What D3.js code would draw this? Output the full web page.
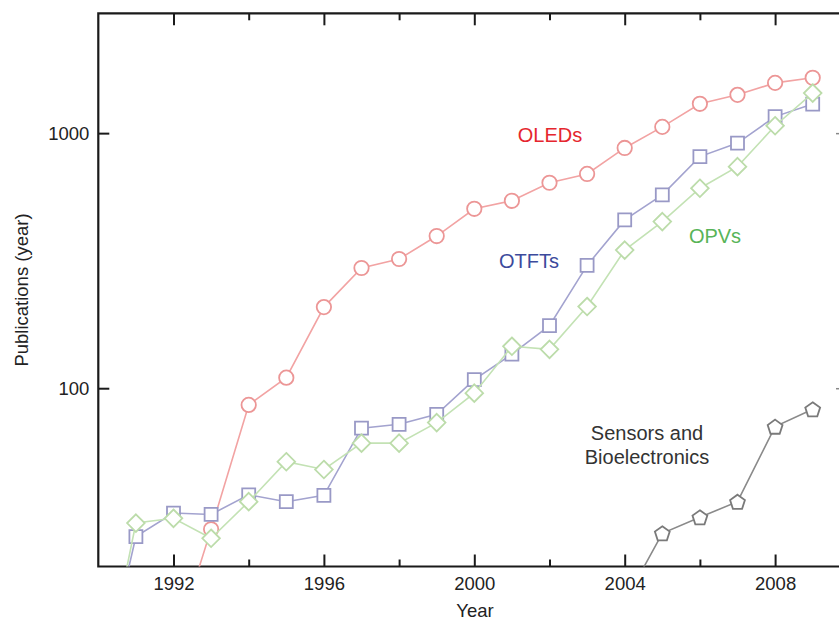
<!DOCTYPE html>
<html>
<head>
<meta charset="utf-8">
<script src="https://cdn.jsdelivr.net/npm/d3@7"></script>
<style>
  html, body { margin: 0; padding: 0; background: #fff; }
  svg { display: block; font-family: "Liberation Sans", Arial, Helvetica, sans-serif; }
</style>
</head>
<body>
<svg id="chart" width="839" height="621"></svg>
<script>
// ---- data ----
const years   = [1990, 1991, 1992, 1993, 1994, 1995, 1996, 1997, 1998, 1999, 2000, 2001, 2002, 2003, 2004, 2005, 2006, 2007, 2008, 2009];
const oleds   = [null, null, 9.5, 28, 86, 110, 208, 296, 321, 395, 505, 543, 639, 692, 875, 1058, 1303, 1413, 1574, 1648];
const otfts   = [6, 26.2, 32.4, 32, 38.2, 35.9, 38, 69.7, 72.2, 79, 108, 136, 176, 303, 457, 573, 809, 914, 1161, 1300];
const opvs    = [5.6, 29.6, 30.9, 25.8, 35.9, 51.5, 48, 60.9, 60.9, 73.3, 95.6, 146, 142, 209, 348, 450, 608, 739, 1069, 1436];
const sensors = [null, null, null, null, null, null, null, null, null, null, null, null, null, null, 14.5, 27, 31.2, 35.9, 70.7, 82.7];

const xMajorTicks = [1992, 1996, 2000, 2004, 2008];
const xMinorTicks = [1994, 1998, 2002, 2006];
const yTicks = [100, 1000];

const seriesNames = ["OLEDs", "OTFTs", "OPVs", "Sensors and Bioelectronics"];

// ---- layout ----
const W = 839, H = 621;
const pLeft = 98.3, pTop = 13.3, pBottom = 566.5, pRight = 846;

const svg = d3.select("#chart");

const x = d3.scaleLinear().domain([1990, 2010]).range([pLeft, 850.3]);
const y = d3.scaleLog().domain([20, 2950]).range([pBottom, pTop]);

const axisColor = "#1a1a1a";
const tickFont = "18.5px";

// clip
svg.append("defs").append("clipPath").attr("id", "plotclip")
  .append("rect").attr("x", pLeft).attr("y", pTop)
  .attr("width", pRight - pLeft).attr("height", pBottom - pTop);

// ---- axes ----
function styleAxis(g) {
  g.select(".domain").remove();
  g.selectAll(".tick line").attr("stroke", axisColor).attr("stroke-width", 2);
  g.selectAll(".tick text").attr("fill", "#222").style("font-size", tickFont)
    .style("font-family", "'Liberation Sans', Arial, sans-serif");
}

svg.append("g").attr("transform", `translate(0,${pBottom})`)
  .call(d3.axisBottom(x).tickValues(xMajorTicks).tickSize(-12).tickPadding(10).tickFormat(d3.format("d")))
  .call(styleAxis);
svg.append("g").attr("transform", `translate(0,${pBottom})`)
  .call(d3.axisBottom(x).tickValues(xMinorTicks).tickSize(-7).tickFormat(""))
  .call(styleAxis);
svg.append("g").attr("transform", `translate(0,${pTop})`)
  .call(d3.axisTop(x).tickValues(xMajorTicks).tickSize(-12).tickFormat(""))
  .call(styleAxis);
svg.append("g").attr("transform", `translate(0,${pTop})`)
  .call(d3.axisTop(x).tickValues(xMinorTicks).tickSize(-7).tickFormat(""))
  .call(styleAxis);
svg.append("g").attr("transform", `translate(${pLeft},0)`)
  .call(d3.axisLeft(y).tickValues(yTicks).tickSize(-11).tickPadding(9).tickFormat(d3.format("d")))
  .call(styleAxis);
svg.append("g").attr("transform", `translate(${pRight},0)`)
  .call(d3.axisRight(y).tickValues(yTicks).tickSize(-10).tickFormat(""))
  .call(g => { g.select(".domain").remove(); g.selectAll(".tick line").attr("stroke", "#888").attr("stroke-width", 1.5); });

// frame
svg.append("path")
  .attr("d", `M${pRight},${pTop}H${pLeft}V${pBottom}H${pRight}`)
  .attr("fill", "none").attr("stroke", axisColor).attr("stroke-width", 2.2);

// axis titles
svg.append("text").attr("x", 475).attr("y", 617).attr("text-anchor", "middle")
  .attr("fill", "#222").style("font-size", "18.5px").text("Year");
svg.append("text").attr("transform", "translate(28,290) rotate(-90)").attr("text-anchor", "middle")
  .attr("fill", "#222").style("font-size", "18.5px").text("Publications (year)");

// ---- series ----
const plot = svg.append("g").attr("clip-path", "url(#plotclip)");

function seriesData(vals) {
  return years.map((yr, i) => ({ year: yr, v: vals[i] })).filter(d => d.v != null);
}

const line = d3.line().x(d => x(d.year)).y(d => y(d.v));

const series = [
  { name: seriesNames[0], vals: oleds,   line: "#f2a3a3", mark: "#ec9696", shape: "circle" },
  { name: seriesNames[1], vals: otfts,   line: "#a3a3cf", mark: "#9999c6", shape: "square" },
  { name: seriesNames[2], vals: opvs,    line: "#c3e2b4", mark: "#bcdcaa", shape: "diamond" },
  { name: seriesNames[3], vals: sensors, line: "#8a8a8a", mark: "#7a7a7a", shape: "pentagon" }
];

function shapePath(shape) {
  if (shape === "circle") {
    const r = 7.2;
    return `M${r},0A${r},${r} 0 1,1 ${-r},0A${r},${r} 0 1,1 ${r},0Z`;
  }
  if (shape === "square") {
    const s = 6.5;
    return `M${-s},${-s}H${s}V${s}H${-s}Z`;
  }
  if (shape === "diamond") {
    const s = 8.8;
    return `M0,${-s}L${s},0L0,${s}L${-s},0Z`;
  }
  const r = 7.8;
  const pts = d3.range(5).map(k => {
    const a = -Math.PI / 2 + k * 2 * Math.PI / 5;
    return [r * Math.cos(a), r * Math.sin(a) + 0.8];
  });
  return "M" + pts.map(p => p.join(",")).join("L") + "Z";
}

series.forEach(s => {
  const data = seriesData(s.vals);
  const g = plot.append("g");
  g.append("path").datum(data).attr("d", line)
    .attr("fill", "none").attr("stroke", s.line).attr("stroke-width", 1.6);
  g.selectAll("path.mk").data(data).join("path").attr("class", "mk")
    .attr("transform", d => `translate(${x(d.year)},${y(d.v)})`)
    .attr("d", shapePath(s.shape))
    .attr("fill", "#fff").attr("stroke", s.mark).attr("stroke-width", 1.8);
});

// ---- series labels ----
const lbl = svg.append("g").style("font-size", "20px");
lbl.append("text").attr("x", 550).attr("y", 142).attr("text-anchor", "middle").attr("fill", "#e5262e").text(seriesNames[0]);
lbl.append("text").attr("x", 529).attr("y", 268).attr("text-anchor", "middle").attr("fill", "#3c4a9c").text(seriesNames[1]);
lbl.append("text").attr("x", 715).attr("y", 243).attr("text-anchor", "middle").attr("fill", "#58b458").text(seriesNames[2]);
const sl = lbl.append("text").attr("text-anchor", "middle").attr("fill", "#333");
sl.append("tspan").attr("x", 647).attr("y", 440).text("Sensors and");
sl.append("tspan").attr("x", 647).attr("y", 464).text("Bioelectronics");
</script>
</body>
</html>
